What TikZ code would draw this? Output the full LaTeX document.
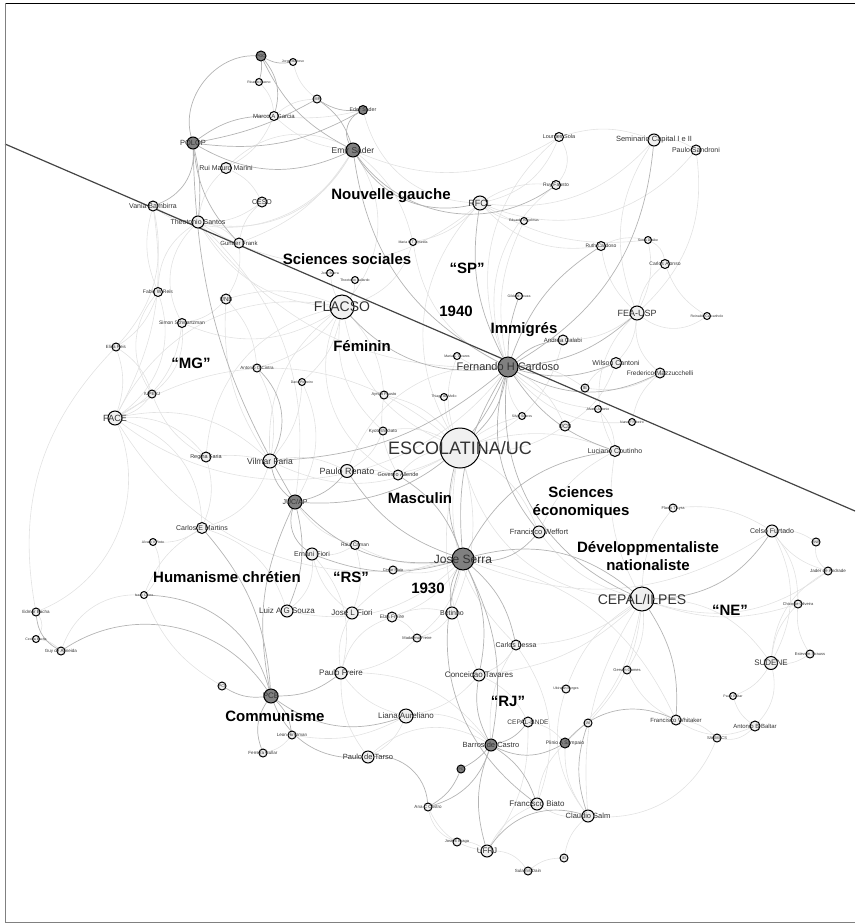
\documentclass[tikz,border=0pt]{standalone}
\usepackage{fontspec}
\setmainfont{Liberation Sans}
\usetikzlibrary{backgrounds}
\definecolor{tiecol}{HTML}{E2E2E2}
\definecolor{strongcol}{HTML}{B4B4B4}
\definecolor{entfill}{HTML}{F0F0F0}
\definecolor{leadfill}{HTML}{808080}
\definecolor{namecol}{HTML}{333333}
\definecolor{axiscol}{HTML}{444444}
\tikzset{
 ent/.style={circle,draw=black,line width=1pt,fill=entfill,inner sep=0pt,minimum size=#1},
 lead/.style={ent=#1,fill=leadfill},
 nm/.style={font=\fontsize{#1}{#1}\selectfont,text=namecol,inner sep=0pt},
 theme/.style={font=\fontsize{15}{18}\selectfont\bfseries,align=center,inner sep=0pt},
 tie/.style={draw=tiecol,line width=0.6pt},
 strongtie/.style={draw=strongcol,line width=0.7pt},
}
\begin{document}
\begin{tikzpicture}[x=1pt,y=-1pt]
\useasboundingbox (0,0) rectangle (855,924);
% frame
\draw[black,line width=1pt] (5,3) -- (855,3);
\draw[gray,line width=1pt] (5,3) -- (5,922) -- (855,922);

% top cluster
\node[lead=10, label={[nm=4]center:POC}] (pol) at (261,56) {};
\node[ent=7, label={[nm=3.5]center:Jorge Mattoso}] (jorge) at (293,62) {};
\node[ent=7, label={[nm=3.5]center:Ricardo Bueno}] (ricardo) at (259,82) {};
\node[ent=9, label={[nm=6]center:Marco A Garcia}] (marco) at (274,116) {};
\node[ent=8, label={[nm=4]center:MIR}] (mir) at (317,99) {};
\node[lead=9, label={[nm=5.3]center:Eder Sader}] (eder) at (363,110) {};
\node[lead=14, label={[nm=8.5]center:Emir Sader}] (emir) at (353,150) {};
\node[lead=12, label={[nm=7.5]center:POLOP}] (polop) at (193,143) {};
\node[ent=11, label={[nm=7]center:Rui Mauro Marini}] (ruimauro) at (226,168) {};
\node[ent=10, label={[nm=7]center:CESO}] (ceso) at (262,202) {};
\node[ent=10, label={[nm=7]center:Vania Bambirra}] (vania) at (153,206) {};
\node[ent=12, label={[nm=7]center:Theotonio Santos}] (theotonio) at (198,222) {};
\node[ent=10, label={[nm=6]center:Gunder Frank}] (gunder) at (239,243) {};
\node[ent=14, label={[nm=9]center:RFCL}] (rfcl) at (480,203) {};
\node[ent=9, label={[nm=5.5]center:Lourdes Sola}] (lourdes) at (559,137) {};
\node[ent=9, label={[nm=5]center:Ruy Fausto}] (ruyfausto) at (556,185) {};
\node[ent=7, label={[nm=3.5]center:Eduardo Kugelmas}] (kugelmas) at (524,221) {};
\node[ent=12, label={[nm=7.5]center:Seminario Capital I e II}] (seminario) at (654,140) {};
\node[ent=10, label={[nm=7]center:Paulo Sandroni}] (sandroni) at (696,150) {};
\node[ent=7, label={[nm=3.5]center:Maria H T Almeida}] (almeida) at (413,242) {};
\node[ent=7, label={[nm=3.5]center:Sonia Draibe}] (draibe) at (648,240) {};
\node[ent=9, label={[nm=5]center:Ruth Cardoso}] (ruth) at (601,246) {};
\node[ent=9, label={[nm=5]center:Carlos Alonso}] (alonso) at (665,264) {};

% sciences sociales
\node[ent=9, label={[nm=5]center:Fabio W Reis}] (fabio) at (158,292) {};
\node[ent=10, label={[nm=6]center:UNB}] (unb) at (226,299) {};
\node[ent=9, label={[nm=5]center:Simon Schwartzman}] (simon) at (182,323) {};
\node[ent=8, label={[nm=4.5]center:Elisa Reis}] (elisa) at (116,347) {};
\node[ent=8, label={[nm=4.5]center:Antonio O Cintra}] (cintra) at (257,368) {};
\node[ent=8, label={[nm=4.5]center:IUPERJ}] (iuperj) at (152,394) {};
\node[ent=14, label={[nm=9]center:FACE}] (face) at (115,418) {};
\node[ent=10, label={[nm=5.5]center:Regina Faria}] (regina) at (206,457) {};
\node[ent=14, label={[nm=8.5]center:Vilmar Faria}] (vilmar) at (270,461) {};
\node[ent=7, label={[nm=3.5]center:Dario Pinheiro}] (dario) at (302,382) {};
\node[ent=7, label={[nm=3.5]center:Jose Ibarra}] (josetiny) at (330,273) {};
\node[ent=7, label={[nm=3.5]center:Theotonio Ballardo}] (theoto2) at (355,280) {};
\node[ent=24, label={[nm=14]center:FLACSO}] (flacso) at (342,307) {};
\node[ent=7, label={[nm=3.5]center:Gilda M Souza}] (gilda) at (519,296) {};
\node[ent=7, label={[nm=3.5]center:Maria C Tavares}] (mariacon) at (457,356) {};
\node[lead=20, label={[nm=11]center:Fernando H Cardoso}] (fhc) at (508,367) {};
\node[ent=10, label={[nm=6]center:Andrea Calabi}] (calabi) at (563,340) {};
\node[ent=8, label={[nm=4]center:Ayrton Fausto}] (ayrton) at (384,395) {};
\node[ent=7, label={[nm=3.5]center:Thiago de Mello}] (thiago) at (444,397) {};
\node[ent=7, label={[nm=3.5]center:Silvio Soares}] (silvia) at (522,416) {};
\node[ent=10, label={[nm=6]center:UCB}] (ucb) at (565,426) {};
\node[ent=8, label={[nm=4.5]center:Kyotoshi Gato}] (kyotoshi) at (383,431) {};
\node[ent=40, label={[nm=18]center:ESCOLATINA/UC}] (escolatina) at (460,448) {};

% economia SP
\node[ent=14, label={[nm=9]center:FEA-USP}] (feausp) at (637,313) {};
\node[ent=7, label={[nm=3.5]center:Reinaldo Carcanholo}] (renaldo) at (707,316) {};
\node[ent=11, label={[nm=7]center:Wilson Cantoni}] (wilson) at (616,363) {};
\node[ent=10, label={[nm=6.5]center:Frederico Mazzucchelli}] (frederico) at (660,373) {};
\node[ent=8, label={[nm=4.5]center:IE}] (ie) at (585,388) {};
\node[ent=7, label={[nm=3.5]center:Alvaro Antonio}] (alvaro) at (598,409) {};
\node[ent=7, label={[nm=3.5]center:Nuno F Ribeiro}] (nuno) at (632,422) {};
\node[ent=11, label={[nm=7]center:Luciano Coutinho}] (coutinho) at (615,451) {};

% left and centre
\node[ent=11, label={[nm=7]center:Carlos E Martins}] (carlosem) at (202,528) {};
\node[ent=7, label={[nm=3.5]center:Alvaro V Pinto}] (alvaropinto) at (153,542) {};
\node[ent=7, label={[nm=3.5]center:Isaac Cirino}] (isaac) at (144,595) {};
\node[ent=12, label={[nm=8]center:Luiz A G Souza}] (luizag) at (287,611) {};
\node[ent=8, label={[nm=4.5]center:Edmar Bacha}] (edmar) at (36,612) {};
\node[ent=7, label={[nm=3.5]center:Cecilia Bacha}] (cecilia) at (36,639) {};
\node[ent=8, label={[nm=4.5]center:Guy de Almeida}] (guy) at (61,651) {};
\node[ent=8, label={[nm=4]center:PCI}] (pci) at (222,686) {};
\node[lead=14, label={[nm=8]center:PCB}] (pcb) at (271,696) {};
\node[ent=13, label={[nm=9]center:Paulo Renato}] (paulorenato) at (347,471) {};
\node[ent=10, label={[nm=5.5]center:Governo Allende}] (allende) at (398,475) {};
\node[lead=14, label={[nm=7]center:JUC/AP}] (jucap) at (295,502) {};
\node[ent=12, label={[nm=7.5]center:Francisco Weffort}] (weffort) at (539,532) {};
\node[ent=9, label={[nm=5]center:Raul Caman}] (raul) at (355,545) {};
\node[ent=12, label={[nm=7]center:Ernani Fiori}] (ernani) at (312,554) {};
\node[lead=22, label={[nm=12]center:Jose Serra}] (serra) at (463,559) {};
\node[ent=8, label={[nm=4]center:Cesar Maia}] (celsotiny) at (393,570) {};
\node[ent=12, label={[nm=8]center:Jose L Fiori}] (josefiori) at (352,613) {};
\node[ent=10, label={[nm=5]center:Elza Freire}] (elza) at (392,617) {};
\node[ent=12, label={[nm=7]center:Betinho}] (betinho) at (452,613) {};
\node[ent=8, label={[nm=4]center:Madalena Freire}] (madalena) at (417,638) {};
\node[ent=10, label={[nm=7]center:Carlos Lessa}] (lessa) at (516,645) {};
\node[ent=12, label={[nm=8]center:Paulo Freire}] (paulofreire) at (341,673) {};
\node[ent=12, label={[nm=8]center:Conceicao Tavares}] (conceicao) at (479,675) {};
\node[ent=8, label={[nm=3.5]center:Ubiratan Borges}] (ubiratan) at (566,689) {};

% nordeste
\node[ent=8, label={[nm=4]center:Flavio T Lyra}] (flavio) at (673,508) {};
\node[ent=12, label={[nm=7]center:Celso Furtado}] (furtado) at (772,531) {};
\node[ent=8, label={[nm=3.5]center:BNB}] (bnb) at (816,542) {};
\node[ent=8, label={[nm=4.5]center:Jader de Andrade}] (jader) at (828,571) {};
\node[ent=24, label={[nm=14]center:CEPAL/ILPES}] (cepal) at (642,599) {};
\node[ent=8, label={[nm=4]center:Chico de Oliveira}] (chico) at (798,604) {};
\node[ent=8, label={[nm=4]center:Estevam Strauss}] (estevam) at (810,654) {};
\node[ent=13, label={[nm=8]center:SUDENE}] (sudene) at (771,663) {};
\node[ent=8, label={[nm=4]center:Gerson Gomes}] (gerson) at (627,670) {};
\node[ent=7, label={[nm=3.5]center:Paulo Baltar}] (paulobastar) at (733,696) {};

% rio
\node[ent=8, label={[nm=4.5]center:Leon Hirszman}] (leon) at (292,735) {};
\node[ent=8, label={[nm=4.5]center:Ferreira Gullar}] (ferreira) at (263,753) {};
\node[ent=14, label={[nm=8]center:Liana Aureliano}] (liana) at (406,716) {};
\node[ent=10, label={[nm=6.5]center:CEPAL-BNDE}] (cepalbnde) at (528,722) {};
\node[lead=12, label={[nm=7.5]center:Barros de Castro}] (barros) at (491,745) {};
\node[lead=10, label={[nm=5]center:Plinio A Sampaio}] (plinio) at (565,743) {};
\node[ent=12, label={[nm=7.5]center:Paulo de Tarso}] (tarso) at (368,757) {};
\node[lead=8, label={[nm=3.5]center:PC}] (pc) at (461,769) {};
\node[ent=8, label={[nm=4.5]center:Ana C Castro}] (anacastro) at (428,807) {};
\node[ent=12, label={[nm=8]center:Francisco Biato}] (biato) at (537,804) {};
\node[ent=8, label={[nm=4]center:Jose E Braga}] (braga) at (457,842) {};
\node[ent=12, label={[nm=8]center:UFRJ}] (ufrj) at (487,851) {};
\node[ent=8, label={[nm=4.5]center:Sulamis Dain}] (sulamis) at (528,871) {};
\node[ent=8, label={[nm=3.5]center:IEI}] (iei) at (564,858) {};
\node[ent=10, label={[nm=6]center:Francisco Whitaker}] (whitaker) at (676,720) {};
\node[ent=10, label={[nm=6]center:Antonio B Baltar}] (baltar) at (755,726) {};
\node[ent=8, label={[nm=4]center:SAGMACS}] (sagmacs) at (717,738) {};
\node[ent=8, label={[nm=4]center:IAI}] (iai) at (588,723) {};
\node[ent=12, label={[nm=7.5]center:Claudio Salm}] (salm) at (588,816) {};

% themes
\node[theme] (tngauche) at (391,196) {Nouvelle gauche};
\node[theme] (tsocial) at (347,259) {Sciences sociales};
\node[theme] (tsp) at (467,268) {“SP”};
\node[theme] (t1940) at (456,311) {1940};
\node[theme] (timmig) at (524,330) {Immigrés};
\node[theme] (tfem) at (362,346) {Féminin};
\node[theme] (tmg) at (191,363) {“MG”};
\node[theme] (tmasc) at (420,498) {Masculin};
\node[theme] (teco) at (581,503) {Sciences\\économiques};
\node[theme] (tdev) at (648,556) {Développmentaliste\\nationaliste};
\node[theme] (thum) at (227,577) {Humanisme chrétien};
\node[theme] (trs) at (351,577) {“RS”};
\node[theme] (t1930) at (428,588) {1930};
\node[theme] (tne) at (730,610) {“NE”};
\node[theme] (tcom) at (275,716) {Communisme};
\node[theme] (trj) at (508,701) {“RJ”};

\begin{scope}[on background layer]
% weak ties
\foreach \a/\b/\c [evaluate=\c as \cc using 1.8*\c] in {escolatina/flacso/15, escolatina/kyotoshi/-10, escolatina/ayrton/-10, escolatina/thiago/5,
 escolatina/silvia/5, escolatina/mariacon/10, escolatina/ucb/-10, escolatina/paulorenato/10, escolatina/vilmar/15,
 escolatina/cepal/-20, escolatina/allende/-10, escolatina/coutinho/10, escolatina/weffort/10, escolatina/calabi/-15,
 escolatina/rfcl/20, escolatina/face/-20, escolatina/betinho/10, escolatina/lessa/-15, escolatina/conceicao/-10,
 flacso/josetiny/5, flacso/theoto2/-10, flacso/ayrton/10, flacso/vilmar/-15, flacso/regina/-20, flacso/allende/-25,
 flacso/dario/10, flacso/face/-20, flacso/unb/-10, flacso/simon/15, flacso/almeida/-15, flacso/kyotoshi/-15,
 flacso/cintra/10, flacso/emir/-20, flacso/theotonio/15,
 face/elisa/-10, face/fabio/-20, face/iuperj/-10, face/regina/15, face/edmar/25, face/vilmar/15, face/carlosem/20, face/simon/-15,
 fhc/lourdes/20, fhc/ucb/10, fhc/ie/10, fhc/paulorenato/-20, fhc/almeida/15, fhc/mariacon/10, fhc/silvia/-10,
 fhc/kugelmas/10, fhc/nuno/-15, fhc/alvaro/-10, fhc/face/25, fhc/theotonio/15, fhc/ruyfausto/20,
 feausp/ruth/10, feausp/alonso/10, feausp/draibe/-10, feausp/renaldo/-20, feausp/wilson/10, feausp/frederico/-15,
 feausp/seminario/15, feausp/sandroni/-15, feausp/calabi/10, feausp/coutinho/-20,
 seminario/sandroni/10, seminario/lourdes/-10, seminario/rfcl/15, sandroni/rfcl/20, rfcl/lourdes/-15, rfcl/ruyfausto/10,
 rfcl/kugelmas/-10, rfcl/ruth/-15, rfcl/almeida/10, rfcl/draibe/-10, rfcl/theotonio/20,
 lourdes/ruyfausto/20, ruth/draibe/10, alonso/draibe/-15, renaldo/alonso/10,
 ie/wilson/10, ie/frederico/-10, alvaro/coutinho/10, nuno/frederico/10, ucb/wilson/-10, coutinho/cepal/-10, coutinho/weffort/-10,
 cepal/gerson/10, cepal/ubiratan/-10, cepal/sudene/15, cepal/flavio/10, cepal/weffort/10, cepal/lessa/10,
 cepal/conceicao/10, cepal/salm/-10, cepal/plinio/10, cepal/iai/10, cepal/jader/-15, cepal/chico/-10,
 furtado/bnb/10, furtado/jader/-10, furtado/sudene/15, furtado/chico/10, furtado/flavio/-10, bnb/jader/-15,
 sudene/chico/10, sudene/estevam/-10, sudene/baltar/15, sudene/paulobastar/10, sudene/jader/15, chico/estevam/-10,
 baltar/paulobastar/10, baltar/sagmacs/15, whitaker/baltar/-15, whitaker/sagmacs/10, whitaker/gerson/10,
 salm/sagmacs/-20, salm/biato/10, salm/iei/-10, salm/plinio/10, salm/ubiratan/15, iei/sulamis/-10,
 ufrj/sulamis/15, ufrj/braga/-10, ufrj/biato/10, ufrj/cepalbnde/-10, ufrj/anacastro/15,
 biato/plinio/10, biato/lessa/-15, barros/lessa/10, barros/liana/-15, barros/tarso/-20, barros/paulofreire/-15,
 liana/conceicao/-10, liana/tarso/10, liana/paulofreire/10, conceicao/lessa/-10, conceicao/cepalbnde/10, cepalbnde/plinio/10,
 serra/madalena/10, serra/raul/10, serra/celsotiny/10, serra/elza/10, serra/josefiori/-10, serra/face/20,
 serra/luizag/15, serra/furtado/-15, serra/whitaker/15,
 betinho/madalena/10, betinho/elza/-10, elza/madalena/10, paulofreire/elza/15, paulofreire/madalena/-10,
 paulofreire/tarso/-10, paulofreire/josefiori/10, paulofreire/ernani/-15, josefiori/ernani/10, josefiori/raul/-10,
 raul/jucap/10, raul/ernani/10, ernani/luizag/15, luizag/carlosem/-15, carlosem/alvaropinto/10, carlosem/regina/-10,
 carlosem/vilmar/-15, alvaropinto/isaac/20, isaac/carlosem/10, regina/vilmar/5, regina/iuperj/10, cintra/vilmar/10,
 cintra/unb/-10, dario/vilmar/10, dario/jucap/15, vilmar/paulorenato/10, paulorenato/allende/5, allende/ayrton/10,
 kyotoshi/paulorenato/10,
 theotonio/vania/10, theotonio/ceso/-10, theotonio/ruimauro/10, theotonio/gunder/10, theotonio/fabio/-15,
 theotonio/simon/-20, theotonio/jucap/15, vania/elisa/15, vania/face/10, vania/fabio/-10, ruimauro/ceso/10,
 ruimauro/emir/20, ruimauro/marco/-10, gunder/unb/10, gunder/ceso/10, gunder/emir/-10, unb/simon/10, unb/vilmar/-10,
 simon/iuperj/15, fabio/iuperj/-20, fabio/elisa/10, elisa/iuperj/10, elisa/edmar/-15, edmar/cecilia/20,
 cecilia/guy/10, guy/isaac/20, pci/isaac/10, leon/ferreira/10, leon/liana/-10, anacastro/braga/-15,
 emir/marco/10, emir/lourdes/-15, emir/almeida/10, emir/theotonio/20, emir/vania/25, marco/mir/10,
 marco/eder/-5, eder/rfcl/-20, jorge/mir/-10, ricardo/marco/10}
 \draw[tie] (\a) to[bend left=\cc] (\b);
% strong ties
\foreach \a/\b/\c [evaluate=\c as \cc using 1.8*\c] in {polop/pol/30, polop/marco/10, polop/eder/-10, polop/emir/-15, polop/mir/-5, pol/emir/-10,
 pol/marco/15, pol/jorge/-10, pol/ricardo/5, mir/emir/10, mir/eder/-10, eder/emir/-25, emir/rfcl/-20, emir/fhc/-15,
 emir/ruyfausto/-25, polop/vania/20, polop/theotonio/5, polop/jucap/-8, polop/gunder/-10,
 fhc/escolatina/10, fhc/serra/-10, fhc/rfcl/10, fhc/calabi/10, fhc/wilson/-10, fhc/frederico/-15, fhc/feausp/-10,
 fhc/ruth/10, fhc/seminario/-15, fhc/flacso/15, fhc/coutinho/-10, fhc/weffort/-15, fhc/cepal/-20, fhc/jucap/20,
 fhc/vilmar/10, fhc/gilda/5,
 serra/escolatina/10, serra/jucap/15, serra/paulorenato/10, serra/weffort/-15, serra/lessa/10, serra/betinho/-10,
 serra/conceicao/10, serra/cepal/15, serra/barros/10, serra/biato/-20, serra/allende/-10, serra/ernani/10, serra/coutinho/15,
 pcb/paulofreire/-10, pcb/liana/-15, pcb/leon/10, pcb/ferreira/-15, pcb/guy/-25, pcb/pci/10, pcb/isaac/-20,
 pcb/carlosem/-10, pcb/jucap/10, pcb/tarso/-20,
 barros/cepalbnde/-10, barros/plinio/-15, barros/biato/10, barros/ufrj/-10, barros/anacastro/15, barros/pc/5,
 barros/conceicao/10, cepal/furtado/-15, cepal/whitaker/10, whitaker/plinio/-20, salm/iai/10, salm/ufrj/-20,
 jucap/ernani/-20, jucap/paulorenato/-10, jucap/vilmar/10, jucap/luizag/10, vilmar/cintra/-20,
 anacastro/tarso/-25, pc/anacastro/10, edmar/guy/-15}
 \draw[strongtie] (\a) to[bend left=\cc] (\b);
% axis
\draw[axiscol,line width=1.2pt] (5,144) -- (855,511);
\end{scope}
\end{tikzpicture}
\end{document}
